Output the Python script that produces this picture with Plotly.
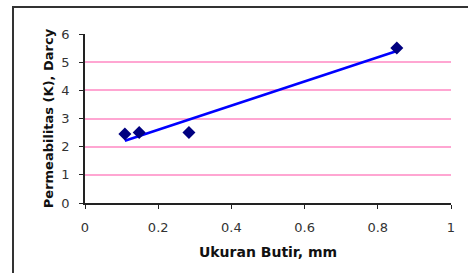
import numpy as np
import plotly.graph_objects as go

grain_size = [0.109, 0.148, 0.284, 0.852]
permeability = [2.45, 2.5, 2.5, 5.5]
x_ticks = [0, 0.2, 0.4, 0.6, 0.8, 1]
x_tick_labels = ["0", "0.2", "0.4", "0.6", "0.8", "1"]
y_ticks = [0, 1, 2, 3, 4, 5, 6]

slope, intercept = np.polyfit(grain_size, permeability, 1)
trend_x = [min(grain_size), max(grain_size)]
trend_y = [slope * v + intercept for v in trend_x]

fig = go.Figure()
fig.add_trace(go.Scatter(x=trend_x, y=trend_y, mode="lines",
                         line=dict(color="#0000FF", width=2.5), hoverinfo="skip"))
fig.add_trace(go.Scatter(x=grain_size, y=permeability, mode="markers",
                         marker=dict(symbol="diamond", size=10, color="#000080")))

font = "DejaVu Sans, sans-serif"
fig.update_layout(
    width=468, height=273,
    margin=dict(l=85, r=17, t=34, b=70),
    paper_bgcolor="white", plot_bgcolor="white",
    showlegend=False,
    font=dict(family=font, size=13, color="#333"),
    xaxis=dict(range=[0, 1], tickvals=x_ticks, ticktext=x_tick_labels,
               showgrid=False, zeroline=False, showline=True, linecolor="#222", linewidth=1.5,
               ticks="outside", ticklen=4, tickcolor="#222", ticklabelstandoff=8,
               title=dict(text="<b>Ukuran Butir, mm</b>", font=dict(size=14, color="#111"), standoff=13)),
    yaxis=dict(range=[0, 6], tickvals=y_ticks,
               showgrid=True, gridcolor="#ffa6d2", gridwidth=1.5, zeroline=False,
               showline=True, linecolor="#222", linewidth=1.5,
               ticks="outside", ticklen=4, tickcolor="#222", ticklabelstandoff=7,
               title=dict(text="<b>Permeabilitas (K), Darcy</b>", font=dict(size=13, color="#111"), standoff=5)),
    shapes=[dict(type="rect", xref="paper", yref="paper",
                 x0=-0.1967, x1=1.06, y0=-0.5, y1=1.1598,
                 line=dict(color="#333", width=2), layer="below")],
)
fig.write_html("out.html", config={"displayModeBar": False},
               post_script="document.body.style.margin='0';")
